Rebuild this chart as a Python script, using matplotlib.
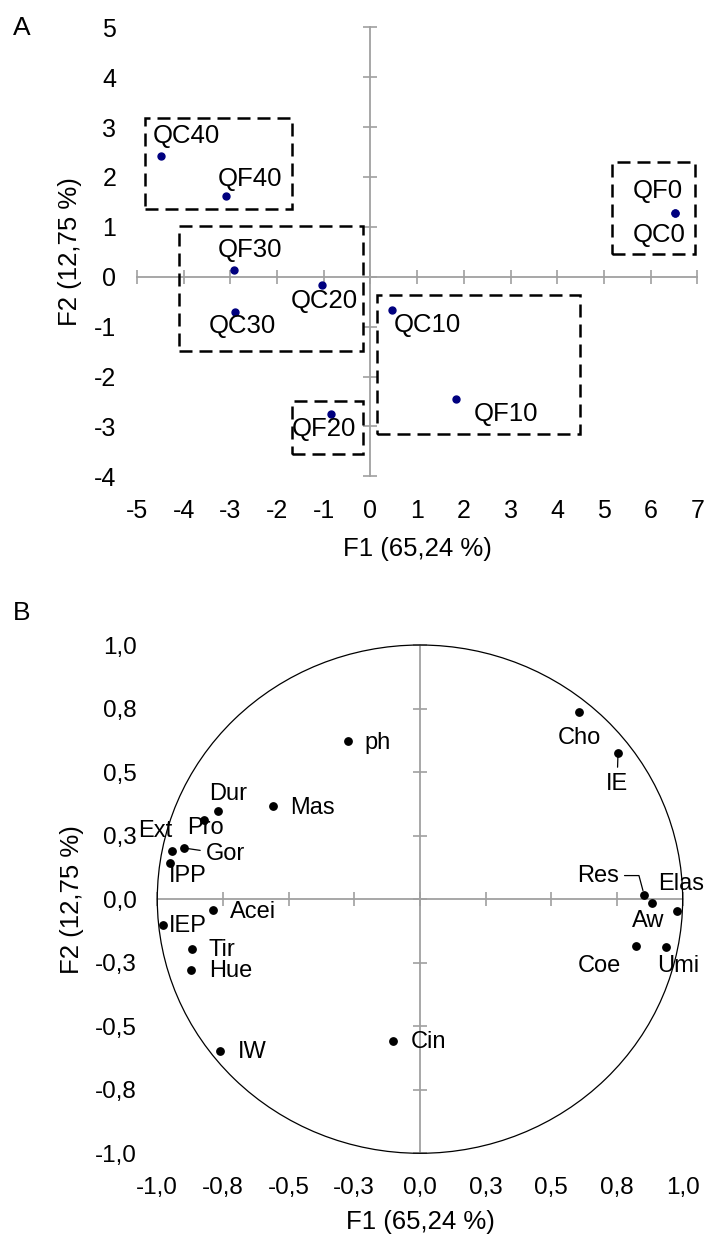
import matplotlib
matplotlib.use("Agg")
import matplotlib.pyplot as plt
from matplotlib.patches import Rectangle, Circle

plt.rcParams['font.family'] = ['Liberation Sans', 'DejaVu Sans']
plt.rcParams['axes.unicode_minus'] = False

# panel A : scores of the samples
a_names = ['QC40', 'QF40', 'QF30', 'QC20', 'QC30', 'QC10', 'QF10', 'QF20', 'QF0', 'QC0']
a_f1 = [-4.48, -3.10, -2.92, -1.04, -2.90, 0.47, 1.83, -0.84, 6.52, 6.52]
a_f2 = [2.41, 1.62, 0.13, -0.17, -0.70, -0.67, -2.45, -2.75, 1.27, 1.27]
# groups (x0, x1, y0, y1)
a_groups = [(-4.82, -1.68, 1.36, 3.19),
            (-4.09, -0.16, -1.49, 1.01),
            (-1.67, -0.16, -3.56, -2.50),
            (0.14, 4.48, -3.16, -0.36),
            (5.18, 6.95, 0.45, 2.29)]
a_xticks = [-5, -4, -3, -2, -1, 0, 1, 2, 3, 4, 5, 6, 7]
a_yticks = [-4, -3, -2, -1, 0, 1, 2, 3, 4, 5]

# panel B : correlation circle of the variables
b_names = ['ph', 'Mas', 'Dur', 'Pro', 'Gor', 'Ext', 'IPP', 'Acei', 'IEP', 'Tir',
           'Hue', 'IW', 'Cin', 'Cho', 'IE', 'Res', 'Aw', 'Elas', 'Coe', 'Umi']
b_f1 = [-0.274, -0.561, -0.769, -0.821, -0.897, -0.943, -0.952, -0.787, -0.977, -0.869,
        -0.872, -0.761, -0.104, 0.606, 0.754, 0.853, 0.884, 0.979, 0.822, 0.936]
b_f2 = [0.622, 0.367, 0.346, 0.310, 0.201, 0.188, 0.142, -0.044, -0.101, -0.197,
        -0.280, -0.598, -0.559, 0.737, 0.576, 0.018, -0.015, -0.046, -0.185, -0.189]
b_ticks = [-1.0, -0.75, -0.5, -0.25, 0.0, 0.25, 0.5, 0.75, 1.0]
b_ticklabels = ['-1,0', '-0,8', '-0,5', '-0,3', '0,0', '0,3', '0,5', '0,8', '1,0']

xlabel = 'F1 (65,24 %)'
ylabel = 'F2 (12,75 %)'

# label offsets in pixels (dx, dy up)
a_off = {'QC40': (25, 20), 'QF40': (24, 17), 'QF30': (16, 20), 'QC20': (2, -16),
         'QC30': (7, -14), 'QC10': (35, -15), 'QF10': (50, -15), 'QF20': (-7, -15),
         'QF0': (-17, 22), 'QC0': (-16, -22)}
b_off = {'ph': (30, -2), 'Mas': (40, -2), 'Dur': (10, 17), 'Pro': (1, -8), 'Gor': (41, -6),
         'Ext': (-17, 20), 'IPP': (18, -13), 'Acei': (40, -2), 'IEP': (24, -1),
         'Tir': (30, -1), 'Hue': (40, -1), 'IW': (32, -1), 'Cin': (36, -1),
         'Cho': (0, -26), 'IE': (-1, -31), 'Res': (-46, 19), 'Aw': (-4, -18),
         'Elas': (4, 27), 'Coe': (-37, -20), 'Umi': (12, -19)}
leaders = {'Gor': 'arc3', 'IE': 'arc3', 'Res': 'angle,angleA=0,angleB=105,rad=0'}

GRAY = '#a0a0a0'
fig = plt.figure(figsize=(7.05, 12.34), dpi=100)


def cross_axes(ax, xt, yt):
    # gray axis lines through the origin with small crossing ticks
    for s in ax.spines.values():
        s.set_visible(False)
    ax.plot([xt[0], xt[-1]], [0, 0], color=GRAY, lw=1.3, zorder=1, clip_on=False)
    ax.plot([0, 0], [yt[0], yt[-1]], color=GRAY, lw=1.3, zorder=1, clip_on=False)
    ax.plot(xt, [0] * len(xt), ls='none', marker='|', ms=9.5, mew=1.2, color=GRAY,
            zorder=1, clip_on=False)
    ax.plot([0] * len(yt), yt, ls='none', marker='_', ms=9.5, mew=1.2, color=GRAY,
            zorder=1, clip_on=False)


# ---------------- panel A
axA = fig.add_axes([0.1943, 0.6140, 0.7949, 0.3639])
axA.set_xlim(-5, 7)
axA.set_ylim(-4, 5)
cross_axes(axA, a_xticks, a_yticks)
axA.set_xticks(a_xticks, [str(v) for v in a_xticks])
axA.set_yticks(a_yticks, [str(v) for v in a_yticks])
axA.tick_params(axis='both', length=0, labelsize=18)
axA.tick_params(axis='x', pad=16)
axA.tick_params(axis='y', pad=15)
axA.text(0.5, -0.162, xlabel, transform=axA.transAxes, ha='center', va='center', fontsize=18.5)
axA.text(-0.1196, 0.5, ylabel, transform=axA.transAxes, ha='center', va='center',
         rotation=90, fontsize=18.5)

for x0, x1, y0, y1 in a_groups:
    axA.add_patch(Rectangle((x0, y0), x1 - x0, y1 - y0, fill=False, ec='black', lw=1.8,
                            ls=(0, (5.2, 2.8)), zorder=2, clip_on=False))
axA.plot(a_f1, a_f2, ls='none', marker='o', ms=5, color='#00007f', zorder=3)
for n, x, y in zip(a_names, a_f1, a_f2):
    axA.annotate(n, (x, y), xytext=a_off[n], textcoords='offset pixels',
                 ha='center', va='center', fontsize=18.5, zorder=4)

# ---------------- panel B
axB = fig.add_axes([0.2231, 0.0654, 0.7452, 0.4119])
axB.set_xlim(-1, 1)
axB.set_ylim(-1, 1)
cross_axes(axB, b_ticks, b_ticks)
axB.set_xticks(b_ticks, b_ticklabels)
axB.set_yticks(b_ticks, b_ticklabels)
axB.tick_params(axis='both', length=0, labelsize=17.5)
axB.tick_params(axis='x', pad=17)
axB.tick_params(axis='y', pad=15)
axB.text(0.5, -0.1346, xlabel, transform=axB.transAxes, ha='center', va='center', fontsize=18.5)
axB.text(-0.163, 0.5, ylabel, transform=axB.transAxes, ha='center', va='center',
         rotation=90, fontsize=18.5)

axB.add_patch(Circle((0, 0), 1, fill=False, ec='black', lw=0.9, zorder=2, clip_on=False))
axB.plot(b_f1, b_f2, ls='none', marker='o', ms=5.3, color='black', zorder=3)
for n, x, y in zip(b_names, b_f1, b_f2):
    arrow = None
    if n in leaders:
        arrow = dict(arrowstyle='-', color='black', lw=0.9, shrinkA=2, shrinkB=3,
                     connectionstyle=leaders[n])
    axB.annotate(n, (x, y), xytext=b_off[n], textcoords='offset pixels',
                 ha='center', va='center', fontsize=17, zorder=4, arrowprops=arrow)

fig.text(0.0308, 0.9777, 'A', ha='center', va='center', fontsize=19)
fig.text(0.0312, 0.503, 'B', ha='center', va='center', fontsize=19)

fig.savefig('out.png', dpi=100)
